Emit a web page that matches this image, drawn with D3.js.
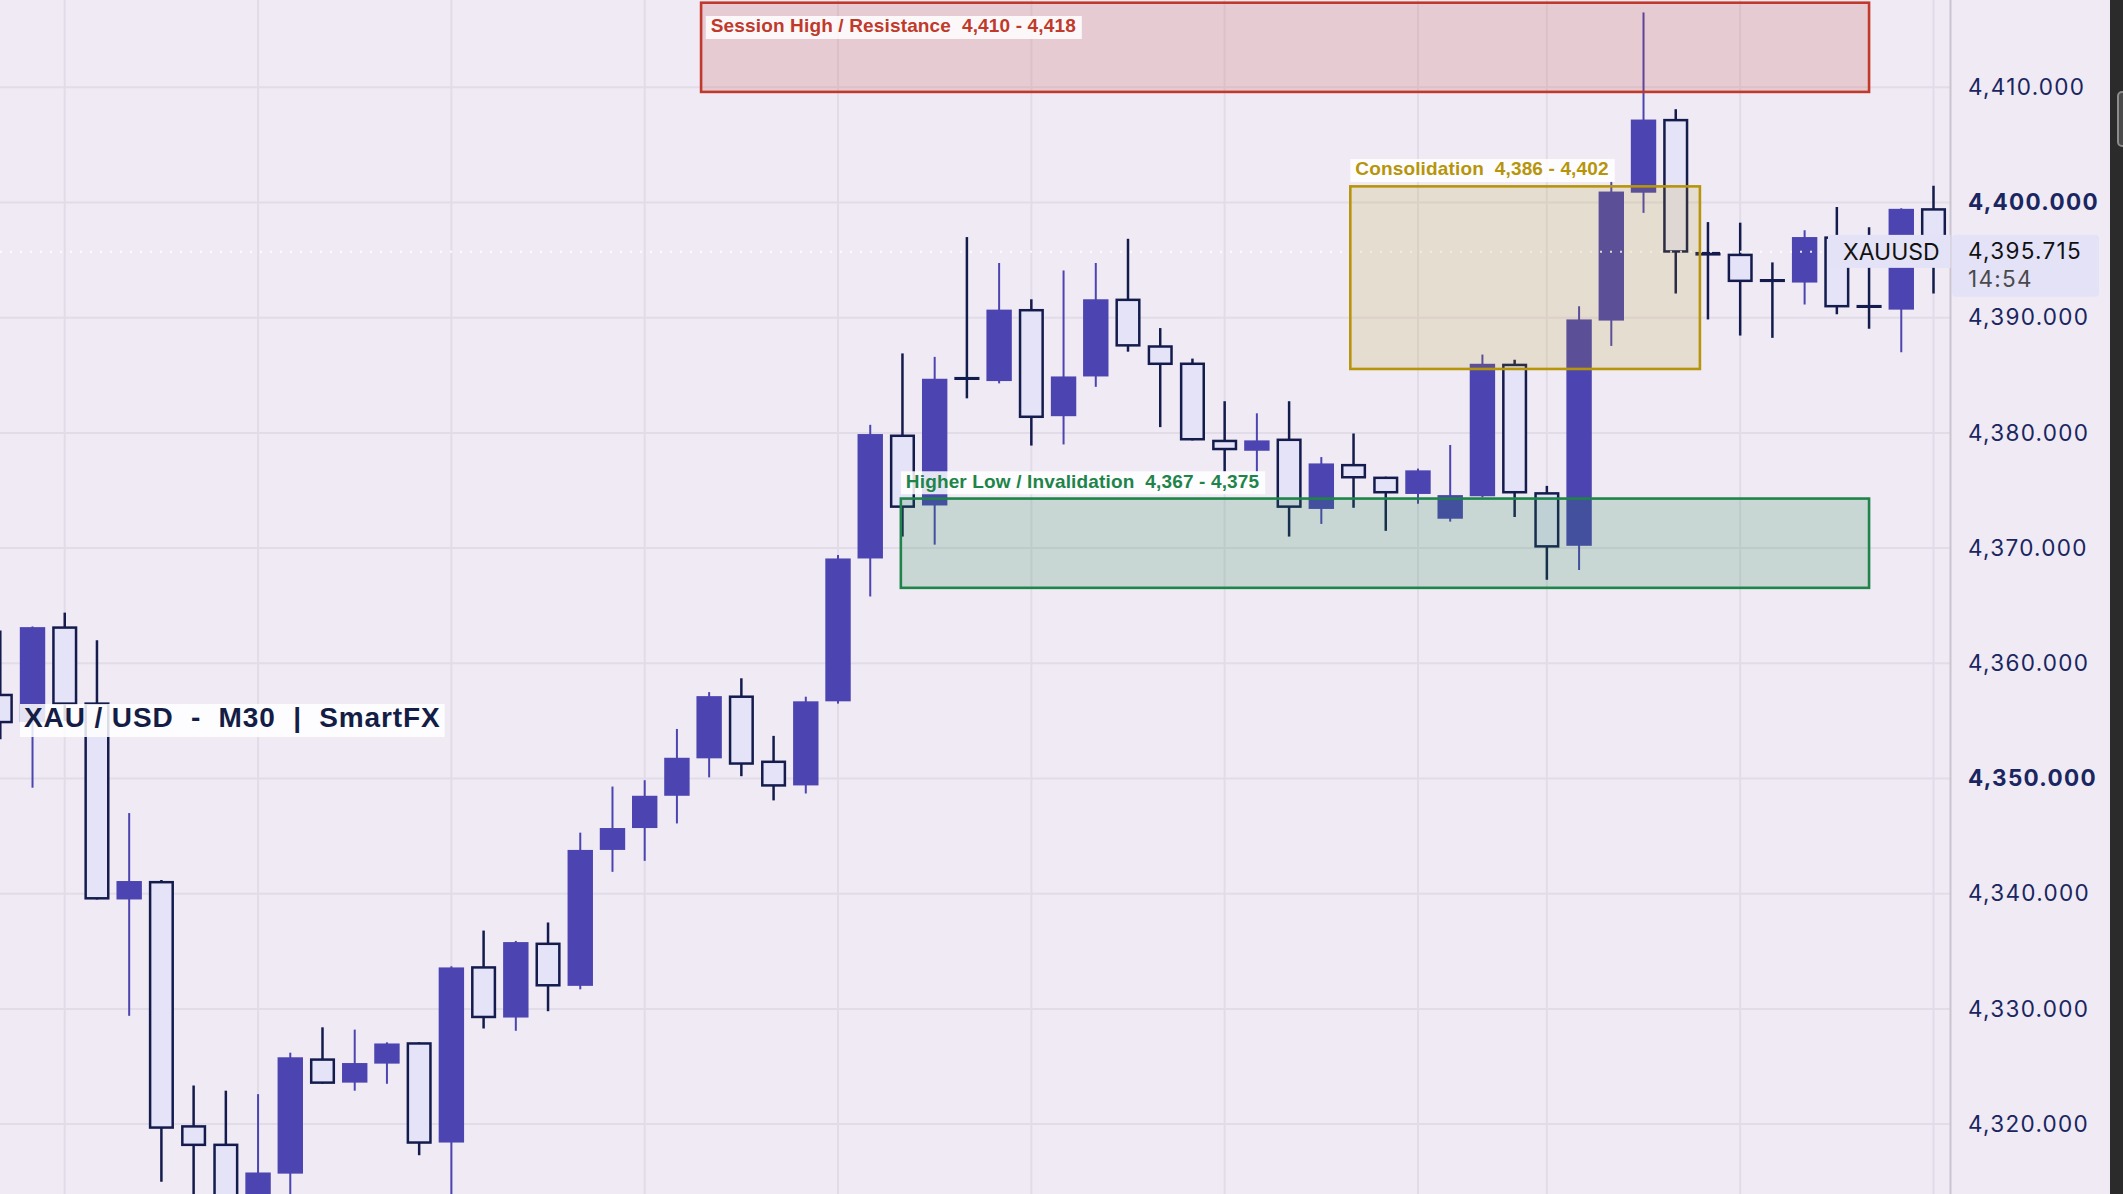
<!DOCTYPE html>
<html><head><meta charset="utf-8">
<script src="https://cdn.jsdelivr.net/npm/d3@7/dist/d3.min.js"></script>
<style>html,body{margin:0;padding:0;background:#efeaf4;overflow:hidden}</style>
</head><body><svg id="c" width="2123" height="1194"></svg>
<script>
// ---- data ----
const opens  = [4357.25,4354.9,4363.1,4356.5,4339.5,4341.0,4319.8,4318.2,4312.5,4315.7,
                4325.6,4323.6,4325.25,4327.0,4318.4,4333.6,4329.25,4335.65,4332.0,4343.8,
                4345.7,4348.5,4351.75,4357.1,4351.45,4349.4,4356.7,4369.1,4379.75,4373.7,
                4384.75,4384.5,4390.65,4381.45,4384.9,4391.55,4387.5,4386.0,4379.3,4378.45,
                4379.4,4373.4,4377.2,4376.1,4374.7,4372.55,4374.5,4385.9,4374.75,4370.2,
                4389.75,4400.85,4407.15,4395.6,4395.45,4393.25,4393.05,4396.95,4391.0,4390.7,
                4399.4];
const highs  = [4362.85,4363.2,4364.4,4362.0,4347.0,4341.2,4323.35,4322.9,4322.6,4326.2,
                4328.4,4328.2,4327.1,4327.1,4333.7,4336.8,4335.9,4337.5,4345.3,4349.3,
                4349.85,4354.3,4357.5,4358.7,4353.7,4357.1,4369.4,4380.7,4386.9,4386.6,
                4397.0,4394.75,4391.6,4394.1,4394.75,4396.85,4389.1,4386.45,4382.75,4381.7,
                4382.75,4377.9,4379.95,4376.2,4376.9,4378.95,4386.8,4386.35,4375.4,4391.0,
                4401.85,4416.5,4408.1,4398.3,4398.25,4394.8,4397.6,4399.6,4397.85,4399.5,
                4401.45];
const lows   = [4353.4,4349.2,4355.0,4339.5,4329.4,4315.0,4312.0,4311.0,4311.0,4312.0,
                4323.5,4322.9,4323.5,4317.3,4312.0,4328.3,4328.1,4329.8,4331.7,4341.9,
                4342.85,4346.1,4350.1,4350.2,4348.1,4348.7,4356.5,4365.8,4371.0,4370.3,
                4383.0,4384.3,4378.9,4379.0,4384.0,4387.05,4380.5,4379.35,4376.65,4376.65,
                4371.0,4372.1,4373.5,4371.5,4373.85,4372.3,4374.4,4372.7,4367.25,4368.1,
                4387.55,4399.1,4392.1,4389.85,4388.45,4388.25,4391.15,4390.3,4389.05,4387.0,
                4392.1];
const closes = [4354.9,4363.14,4356.5,4339.6,4341.1,4319.7,4318.2,4312.5,4315.8,4325.8,
                4323.6,4325.3,4327.0,4318.4,4333.6,4329.3,4335.8,4332.05,4343.8,4345.7,
                4348.5,4351.8,4357.15,4351.3,4349.4,4356.7,4369.1,4379.9,4373.6,4384.7,
                4384.7,4390.7,4381.4,4384.9,4391.6,4387.6,4386.0,4379.45,4378.6,4379.35,
                4373.6,4377.35,4376.15,4374.85,4376.75,4374.6,4386.0,4374.85,4370.15,4389.85,
                4400.95,4407.2,4395.75,4395.5,4393.2,4393.2,4397.0,4391.0,4390.95,4399.45,
                4395.715];
const yTicks = [4320,4330,4340,4350,4360,4370,4380,4390,4400,4410];
const boldTicks = [4350,4400];
const vGridIdx = [2,8,14,20,26,32,38,44,48,54,60];
const zoneNames  = ["Session High / Resistance","Higher Low / Invalidation","Consolidation"];
const zoneLows   = [4409.6,4366.55,4385.55];
const zoneHighs  = [4417.5,4374.3,4401.4];
const zoneFrom   = [21.75,27.95,41.9];
const zoneTo     = [58.0,58.0,52.75];
const zoneColors = ["#c0392b","#1e8449","#b7950b"];
const lastPrice = 4395.715, timer = "14:54", symbol = "XAUUSD";
const title = "XAU / USD  -  M30  |  SmartFX";

// ---- layout ----
const W = 2123, H = 1194, plotR = 1950.5;
const svg = d3.select("#c");
const x = d3.scaleLinear().domain([0,60]).range([0.3,1933.5]);
const y = d3.scaleLinear().domain([4320,4410]).range([1124.1,87.3]);
const fmtC = v => d3.format(",")(Math.ceil(v));

svg.append("rect").attr("width",W).attr("height",H).attr("fill","#efeaf4");
svg.append("defs").append("clipPath").attr("id","plot")
  .append("rect").attr("x",0).attr("y",0).attr("width",plotR).attr("height",H);

const g = svg.append("g").attr("clip-path","url(#plot)");
// grid
g.selectAll("line.h").data(yTicks).join("line")
  .attr("x1",0).attr("x2",plotR).attr("y1",d=>y(d)).attr("y2",d=>y(d))
  .attr("stroke","#e2dce8").attr("stroke-width",2);
g.selectAll("line.v").data(vGridIdx).join("line")
  .attr("y1",0).attr("y2",H).attr("x1",d=>x(d)).attr("x2",d=>x(d))
  .attr("stroke","#e2dce8").attr("stroke-width",2);

// candles
const candles = d3.range(opens.length).map(i=>({i,o:opens[i],h:highs[i],l:lows[i],c:closes[i]}));
const bullC = "#4c44b0", bearS = "#141c4e", bearF = "#e5e3f7";
const cg = g.append("g");
cg.selectAll("line.w").data(candles).join("line")
  .attr("x1",d=>x(d.i)).attr("x2",d=>x(d.i))
  .attr("y1",d=>y(d.h)).attr("y2",d=>y(d.l))
  .attr("stroke",d=>d.c>=d.o?bullC:bearS)
  .attr("stroke-width",d=>d.c>=d.o?2:2.5);
cg.selectAll("rect.b").data(candles).join("rect")
  .attr("x",d=>d.c>=d.o? x(d.i)-12.7 : x(d.i)-11.3)
  .attr("width",d=>d.c>=d.o?25.4:22.6)
  .attr("y",d=>y(Math.max(d.o,d.c)))
  .attr("height",d=>Math.max(0.01,y(Math.min(d.o,d.c))-y(Math.max(d.o,d.c))))
  .attr("fill",d=>d.c>=d.o?bullC:bearF)
  .attr("stroke",d=>d.c>=d.o?"none":bearS)
  .attr("stroke-width",2.5);

// current price dotted line
g.append("line").attr("x1",0).attr("x2",plotR).attr("y1",y(lastPrice)).attr("y2",y(lastPrice))
  .attr("stroke","#ffffff").attr("stroke-opacity",0.85).attr("stroke-width",2)
  .attr("stroke-dasharray","2 8");

// zones
const zoneOp = [0.17,0.19,0.15];
const zones = zoneNames.map((n,k)=>({n,k,lo:zoneLows[k],hi:zoneHighs[k],a:zoneFrom[k],b:zoneTo[k],col:zoneColors[k]}));
zones.forEach(z=>{
  const top = Math.max(y(z.hi),2.7), bot = y(z.lo);
  g.append("rect").attr("x",x(z.a)).attr("width",x(z.b)-x(z.a))
    .attr("y",top).attr("height",bot-top)
    .attr("fill",z.col).attr("fill-opacity",zoneOp[z.k])
    .attr("stroke",z.col).attr("stroke-width",2.6);
});
zones.forEach(z=>{
  const top = Math.max(y(z.hi),2.7);
  const inside = y(z.hi) < 30;
  const tx = x(z.a) + (inside?9.7:5), ty = inside ? top+29.6 : top-11;
  const lg = svg.append("g");
  const bg = lg.append("rect").attr("fill","#ffffff").attr("fill-opacity",0.86);
  const t = lg.append("text").attr("x",tx).attr("y",ty)
    .attr("font-family","'Liberation Sans', Arial, sans-serif").attr("font-weight","bold")
    .attr("font-size",19).attr("letter-spacing","0.15px").attr("fill",z.col).style("white-space","pre")
    .text(z.n+"  "+fmtC(z.lo)+" - "+fmtC(z.hi));
  const w = t.node().getComputedTextLength();
  bg.attr("x",tx-5).attr("y",ty-16.3).attr("width",w+11).attr("height",23);
});

// title
{
  const tg = svg.append("g");
  const bg = tg.append("rect").attr("fill","#ffffff").attr("fill-opacity",0.85);
  const t = tg.append("text").attr("x",24).attr("y",727.3)
    .attr("font-family","'Liberation Sans', Arial, sans-serif").attr("font-weight","bold")
    .attr("font-size",28).attr("letter-spacing","0.9px").attr("fill","#131d45").style("white-space","pre").text(title);
  const w = t.node().getComputedTextLength();
  bg.attr("x",20).attr("y",704).attr("width",w+8).attr("height",33);
}

// axis separator
svg.append("line").attr("x1",plotR).attr("x2",plotR).attr("y1",0).attr("y2",H)
  .attr("stroke","#c9c4d0").attr("stroke-width",2);

// right axis
const ax = svg.append("g").attr("transform",`translate(${plotR},0)`)
  .call(d3.axisRight(y).tickValues(yTicks).tickFormat(d3.format(",.3f")).tickSize(0).tickPadding(17.5));
ax.select(".domain").remove();
ax.selectAll("text")
  .attr("font-family","Inter, 'Noto Sans', sans-serif").attr("font-size",22.5)
  .attr("letter-spacing","1.3px").attr("fill","#1a2660")
  .attr("font-weight",d=>boldTicks.includes(d)?"bold":"normal")
  .attr("dy","0.32em");

// symbol label + price box
{
  const yp = y(lastPrice);
  svg.append("rect").attr("x",1828).attr("y",yp-17).attr("width",plotR-1828).attr("height",33)
    .attr("fill","#e4e2f6");
  svg.append("text").attr("x",1843).attr("y",yp+8.5).attr("font-family","Inter, sans-serif")
    .attr("font-size",23).attr("fill","#111111").text(symbol);
  svg.append("rect").attr("x",1952).attr("y",yp-17).attr("width",147).attr("height",62).attr("rx",4)
    .attr("fill","#e4e2f6");
  svg.append("text").attr("x",1968).attr("y",yp+7.6).attr("font-family","Inter, 'Noto Sans', sans-serif")
    .attr("font-size",22.5).attr("letter-spacing","1.3px").attr("fill","#111111").text(d3.format(",.3f")(lastPrice));
  svg.append("text").attr("x",1968).attr("y",yp+34.8).attr("font-family","Inter, 'Noto Sans', sans-serif")
    .attr("font-size",22.5).attr("letter-spacing","1.3px").attr("fill","#4a4a4a").text(timer);
}

// dark strip at right edge
svg.append("rect").attr("x",2110).attr("y",0).attr("width",13).attr("height",H).attr("fill","#2b2b2b");
svg.append("rect").attr("x",2118).attr("y",92).attr("width",10).attr("height",54).attr("rx",4)
  .attr("fill","#4a4a4a").attr("stroke","#8c8c8c").attr("stroke-width",2);
</script></body></html>
